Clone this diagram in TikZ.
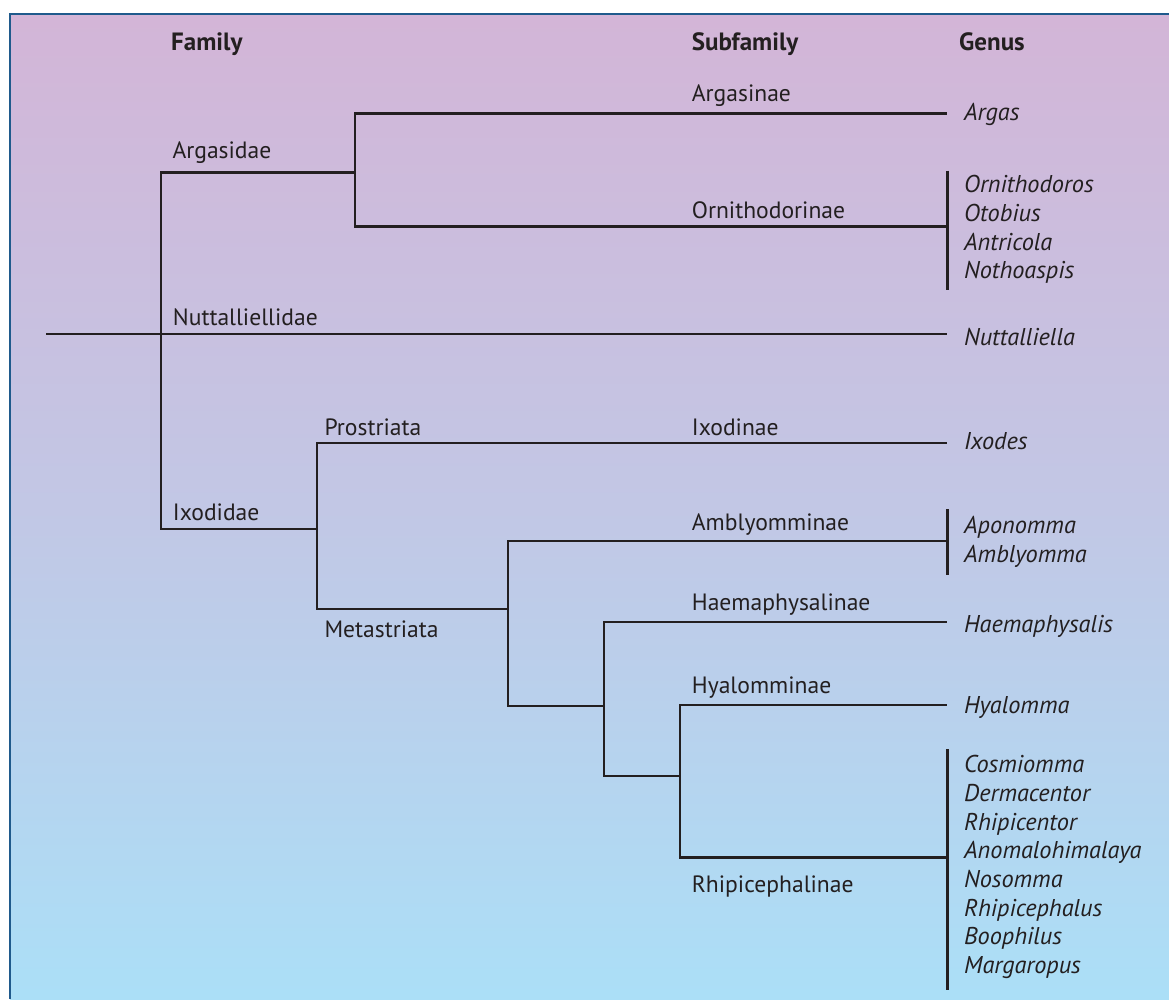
\documentclass[tikz,border=0pt]{standalone}
\usepackage{fontspec}
\setmainfont{PT Sans}
\definecolor{ink}{HTML}{231F20}
\definecolor{frame}{HTML}{1F5A8C}
\definecolor{bgtop}{HTML}{D3B5D7}
\definecolor{bgmid}{HTML}{C2C7E5}
\definecolor{bgbot}{HTML}{ABDFF7}
\tikzset{
  lbl/.style={anchor=base west, inner sep=0pt, text=ink, font=\fontsize{23.6}{28}\selectfont},
  gen/.style={lbl, font=\fontsize{24.3}{28}\selectfont\itshape},
  hdr/.style={lbl, font=\fontsize{25}{28}\selectfont\bfseries},
  br/.style={draw=ink, line width=2.9pt},
  brk/.style={draw=ink, line width=3pt},
}
\begin{document}
\begin{tikzpicture}[x=1pt,y=-1pt]
\useasboundingbox (0,0) rectangle (1169,999);
% background
\shade[top color=bgtop, bottom color=bgmid] (10,14) rectangle (1169,506);
\shade[top color=bgmid, bottom color=bgbot] (10,505) rectangle (1169,999);
\draw[frame, line width=2.8pt] (10,999) -- (10,14) -- (1169,14);

% headers
\node[hdr] (hfam) at (171,50.7) {Family};
\node[hdr] (hsub) at (691.7,50.7) {Subfamily};
\node[hdr] (hgen) at (959,50.7) {Genus};

% junctions
\coordinate (root) at (46,334);
\coordinate (famJ) at (161,334);
\coordinate (argJ) at (355,172.5);
\coordinate (ixoJ) at (317,529);
\coordinate (metJ) at (508,609);
\coordinate (haeJ) at (604,706);
\coordinate (hyaJ) at (680,776);
% tips
\coordinate (argasE) at (947,113.5);
\coordinate (ornE) at (947,226.5);
\coordinate (nutE) at (947,334);
\coordinate (prosE) at (947,443);
\coordinate (ambE) at (947,541);
\coordinate (haeE) at (947,622);
\coordinate (hyaE) at (947,705);
\coordinate (rhiE) at (947,857.5);
% brackets
\coordinate (b1a) at (947.5,170.5); \coordinate (b1b) at (947.5,290);
\coordinate (b2a) at (947.5,509);   \coordinate (b2b) at (947.5,575);
\coordinate (b3a) at (947.5,749);   \coordinate (b3b) at (947.5,990);

% branches
\draw[br] (root) -- (famJ) -- (nutE);
\draw[br] (famJ) |- (argJ);
\draw[br] (famJ) |- (ixoJ);
\draw[br] (argJ) |- (argasE);
\draw[br] (argJ) |- (ornE);
\draw[br] (ixoJ) |- (prosE);
\draw[br] (ixoJ) |- (metJ);
\draw[br] (metJ) |- (ambE);
\draw[br] (metJ) |- (haeJ);
\draw[br] (haeJ) |- (haeE);
\draw[br] (haeJ) |- (hyaJ);
\draw[br] (hyaJ) |- (hyaE);
\draw[br] (hyaJ) |- (rhiE);
\draw[brk] (b1a) -- (b1b);
\draw[brk] (b2a) -- (b2b);
\draw[brk] (b3a) -- (b3b);

% family labels
\node[lbl] (argasidae) at (172.3,158.3) {Argasidae};
\node[lbl] (nuttalliellidae) at (172.7,325.7) {Nuttalliellidae};
\node[lbl] (ixodidae) at (172.7,520.7) {Ixodidae};
\node[lbl] (prostriata) at (324.3,435.7) {Prostriata};
\node[lbl] (metastriata) at (324.3,637.7) {Metastriata};

% subfamily labels
\node[lbl] (argasinae) at (691.7,101.7) {Argasinae};
\node[lbl] (ornithodorinae) at (691.7,218.3) {Ornithodorinae};
\node[lbl] (ixodinae) at (691.7,435.5) {Ixodinae};
\node[lbl] (amblyomminae) at (691.7,530) {Amblyomminae};
\node[lbl] (haemaphysalinae) at (691.7,610) {Haemaphysalinae};
\node[lbl] (hyalomminae) at (691.7,693.3) {Hyalomminae};
\node[lbl] (rhipicephalinae) at (691.7,892) {Rhipicephalinae};

% genera
\node[gen] (argas) at (964,120) {Argas};
\node[gen] (ornithodoros) at (964,192.3) {Ornithodoros};
\node[gen] (otobius) at (964,221.7) {Otobius};
\node[gen] (antricola) at (964,250) {Antricola};
\node[gen] (nothoaspis) at (964,278.3) {Nothoaspis};
\node[gen] (nuttalliella) at (964,345) {Nuttalliella};
\node[gen] (ixodes) at (964,449.3) {Ixodes};
\node[gen] (aponomma) at (964,533.3) {Aponomma};
\node[gen] (amblyomma) at (964,562.3) {Amblyomma};
\node[gen] (haemaphysalis) at (964,632.3) {Haemaphysalis};
\node[gen] (hyalomma) at (964,713.3) {Hyalomma};
\node[gen] (cosmiomma) at (964,772.3) {Cosmiomma};
\node[gen] (dermacentor) at (964,801) {Dermacentor};
\node[gen] (rhipicentor) at (964,830) {Rhipicentor};
\node[gen] (anomalohimalaya) at (964,858.3) {Anomalohimalaya};
\node[gen] (nosomma) at (964,887.7) {Nosomma};
\node[gen] (rhipicephalus) at (964,916.7) {Rhipicephalus};
\node[gen] (boophilus) at (964,944.3) {Boophilus};
\node[gen] (margaropus) at (964,973.3) {Margaropus};
\end{tikzpicture}
\end{document}
